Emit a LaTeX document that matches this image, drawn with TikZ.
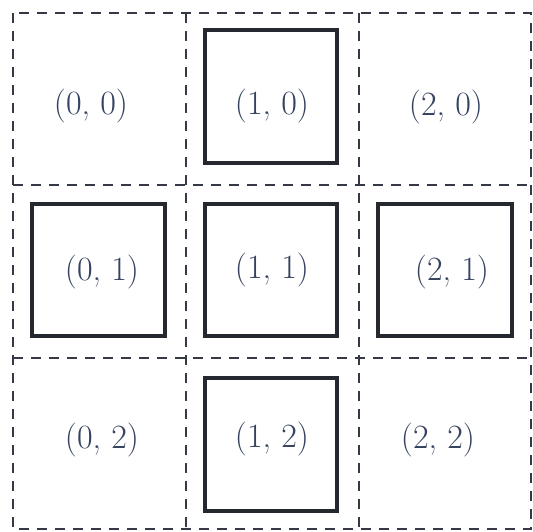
\documentclass[tikz,border=0pt]{standalone}
\begin{document}
\begin{tikzpicture}[x=1pt,y=-1pt,
  cellbox/.style={draw=linec, line width=2.4pt, dash pattern=on 10pt off 8pt},
  solidbox/.style={draw=boxc, line width=3.4pt},
  lbl/.style={text=txtc, font=\fontsize{34}{37}\selectfont, inner sep=0pt}]
\definecolor{linec}{HTML}{353945}
\definecolor{boxc}{HTML}{25282E}
\definecolor{txtc}{HTML}{354260}
\useasboundingbox (0,0) rectangle (533,531);
\fill[white] (0,0) rectangle (533,531);
% dashed grid
\draw[cellbox] (13,13) rectangle (531,529);
\draw[cellbox] (186,13) -- (186,529);
\draw[cellbox] (359,13) -- (359,529);
\draw[cellbox] (13,185) -- (531,185);
\draw[cellbox] (13,358) -- (531,358);
% solid squares
\draw[solidbox] (205,30) rectangle (337,163);
\draw[solidbox] (32,204) rectangle (165,336);
\draw[solidbox] (205,204) rectangle (337,336);
\draw[solidbox] (378,204) rectangle (512,336);
\draw[solidbox] (205,378) rectangle (337,511);
% labels
\node[lbl] (l00) at (91,106) {(0, 0)};
\node[lbl] (l10) at (272,106) {(1, 0)};
\node[lbl] (l20) at (446,107) {(2, 0)};
\node[lbl] (l01) at (102,272) {(0, 1)};
\node[lbl] (l11) at (272,270) {(1, 1)};
\node[lbl] (l21) at (452,272) {(2, 1)};
\node[lbl] (l02) at (102,440) {(0, 2)};
\node[lbl] (l12) at (272,439) {(1, 2)};
\node[lbl] (l22) at (438,440) {(2, 2)};
\end{tikzpicture}
\end{document}
